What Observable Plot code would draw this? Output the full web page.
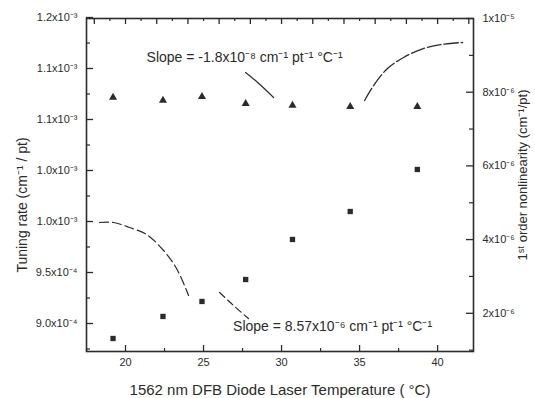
<!DOCTYPE html>
<html><head><meta charset="utf-8">
<script src="https://cdn.jsdelivr.net/npm/d3@7"></script>
<script src="https://cdn.jsdelivr.net/npm/@observablehq/plot@0.6"></script>
<style>body{margin:0;background:#fff} svg{display:block}</style>
</head><body><div id="chart"></div>
<script>
// ---- data ----
const temperature = [19.2, 22.4, 24.9, 27.7, 30.7, 34.4, 38.7];
const tuningRate = [0.8853e-3, 0.9069e-3, 0.9216e-3, 0.9431e-3, 0.9824e-3, 1.0098e-3, 1.0510e-3];
const nonlinearity = [7.86e-6, 7.78e-6, 7.88e-6, 7.69e-6, 7.64e-6, 7.61e-6, 7.61e-6];

const leftTicks = [0.9e-3, 0.95e-3, 1.0e-3, 1.05e-3, 1.1e-3, 1.15e-3, 1.2e-3];
const leftTickLabels = ["9.0x10⁻⁴", "9.5x10⁻⁴", "1.0x10⁻³", "1.0x10⁻³", "1.1x10⁻³", "1.1x10⁻³", "1.2x10⁻³"];
const leftMinorTicks = [0.875e-3, 0.925e-3, 0.975e-3, 1.025e-3, 1.075e-3, 1.125e-3, 1.175e-3];
const rightTicks = [2e-6, 4e-6, 6e-6, 8e-6, 1e-5];
const rightTickLabels = ["2x10⁻⁶", "4x10⁻⁶", "6x10⁻⁶", "8x10⁻⁶", "1x10⁻⁵"];
const rightMinorTicks = [1e-6, 3e-6, 5e-6, 7e-6, 9e-6];
const xTicks = [20, 25, 30, 35, 40];
const xMinorTicks = [17.5, 22.5, 27.5, 32.5, 37.5];
const topMajorTicks = [18, 20, 22, 24, 26, 28, 30, 32, 34, 36, 38, 40, 42];
const topMinorTicks = [19, 21, 23, 25, 27, 29, 31, 33, 35, 37, 39, 41];

const leftDomain = [0.87255e-3, 1.19902e-3];
const rightDomain = [0.9633e-6, 1.0e-5];
const xDomain = [17.5, 42.3];

// annotation leader lines (temperature, tuning-rate units)
const leaderTop = [{t: 27.69, v: 1.14608e-3}, {t: 28.40, v: 1.13725e-3}, {t: 29.49, v: 1.12157e-3}];
const arrowTop = [{t: 35.32, v: 1.1186e-3}, {t: 35.90, v: 1.1333e-3}, {t: 36.79, v: 1.1500e-3}, {t: 37.82, v: 1.1608e-3}, {t: 38.91, v: 1.1686e-3}, {t: 40.19, v: 1.1735e-3}, {t: 41.60, v: 1.1755e-3}];
const arrowBottomA = [{t: 18.33, v: 0.99902e-3}, {t: 19.23, v: 0.99902e-3}, {t: 20.26, v: 0.99412e-3}, {t: 21.35, v: 0.98725e-3}, {t: 22.44, v: 0.97157e-3}, {t: 23.27, v: 0.95392e-3}, {t: 24.04, v: 0.92745e-3}];
const arrowBottomB = [{t: 26.03, v: 0.93039e-3}, {t: 26.92, v: 0.91765e-3}, {t: 27.88, v: 0.9049e-3}];
const slopeLabels = [
  {t: 27.63, v: 1.1608e-3, text: "Slope = -1.8x10⁻⁸ cm⁻¹ pt⁻¹ °C⁻¹"},
  {t: 33.27, v: 0.89706e-3, text: "Slope = 8.57x10⁻⁶ cm⁻¹ pt⁻¹ °C⁻¹"}
];
const xTitle = "1562 nm DFB Diode Laser Temperature ( °C)";
const yLeftTitle = "Tuning rate (cm⁻¹ / pt)";
const yRightTitle = "1ˢᵗ order nonlinearity (cm⁻¹/pt)";

// ---- build ----
const toLeft = d3.scaleLinear().domain(rightDomain).range(leftDomain);
const ink = "#2b2b2b";
const W = 535, H = 398;
const mT = 18, mR = 62, mB = 47, mL = 86;
const fw = W - mL - mR, fh = H - mT - mB;

const squares = temperature.map((t, i) => ({t, v: tuningRate[i]}));
const triangles = temperature.map((t, i) => ({t, v: toLeft(nonlinearity[i])}));

const chart = Plot.plot({
  width: W, height: H,
  marginTop: mT, marginRight: mR, marginBottom: mB, marginLeft: mL,
  style: {fontFamily: "'Liberation Sans', Arial, sans-serif", fontSize: "11px", color: ink, background: "#fff"},
  x: {domain: xDomain, axis: null},
  y: {domain: leftDomain, axis: null},
  marks: [
    Plot.frame({stroke: ink, strokeWidth: 1.6}),
    // inward tick marks
    Plot.tickY(leftTicks, {y: d => d, stroke: ink, strokeWidth: 1.3, insetRight: fw - 7}),
    Plot.tickY(leftMinorTicks, {y: d => d, stroke: ink, strokeWidth: 1.2, insetRight: fw - 4}),
    Plot.tickY(rightTicks.map(toLeft), {y: d => d, stroke: ink, strokeWidth: 1.3, insetLeft: fw - 7}),
    Plot.tickY(rightMinorTicks.map(toLeft), {y: d => d, stroke: ink, strokeWidth: 1.2, insetLeft: fw - 4}),
    Plot.tickX(xTicks, {x: d => d, stroke: ink, strokeWidth: 1.3, insetTop: fh - 6}),
    Plot.tickX(xMinorTicks, {x: d => d, stroke: ink, strokeWidth: 1.2, insetTop: fh - 3}),
    Plot.tickX(topMajorTicks, {x: d => d, stroke: ink, strokeWidth: 1.3, insetBottom: fh - 6}),
    Plot.tickX(topMinorTicks, {x: d => d, stroke: ink, strokeWidth: 1.2, insetBottom: fh - 3}),
    // tick labels
    Plot.axisX(xTicks, {anchor: "bottom", tickSize: 0, tickPadding: 7, label: null, fill: ink, fontSize: 11}),
    Plot.axisY(leftTicks, {anchor: "left", tickSize: 0, tickPadding: 9, label: null, fill: ink, fontSize: 11,
      tickFormat: d => leftTickLabels[leftTicks.indexOf(d)]}),
    Plot.text(rightTicks, {y: d => toLeft(d), frameAnchor: "right", dx: 9, textAnchor: "start", fill: ink, fontSize: 11,
      text: (d, i) => rightTickLabels[i]}),
    // axis titles
    Plot.text([xTitle], {frameAnchor: "bottom", dy: 39, textAnchor: "middle", lineAnchor: "middle", fontSize: 15, fill: ink}),
    Plot.text([yLeftTitle], {frameAnchor: "left", dx: -64, dy: 20, rotate: -90, textAnchor: "middle", lineAnchor: "middle", fontSize: 14, fill: ink}),
    Plot.text([yRightTitle], {frameAnchor: "right", dx: 49, dy: -10, rotate: -90, textAnchor: "middle", lineAnchor: "middle", fontSize: 13, fill: ink}),
    // annotations
    Plot.line(leaderTop, {x: "t", y: "v", stroke: ink, strokeWidth: 1.2, curve: "catmull-rom"}),
    Plot.line(arrowTop, {x: "t", y: "v", stroke: ink, strokeWidth: 1.3, curve: "catmull-rom", strokeDasharray: "14 3"}),
    Plot.line(arrowBottomA, {x: "t", y: "v", stroke: ink, strokeWidth: 1.2, curve: "catmull-rom", strokeDasharray: "9 4"}),
    Plot.line(arrowBottomB, {x: "t", y: "v", stroke: ink, strokeWidth: 1.2, curve: "catmull-rom", strokeDasharray: "7 4"}),
    Plot.text(slopeLabels, {x: "t", y: "v", text: "text", fontSize: 14, fill: ink}),
    // data
    Plot.dot(triangles, {x: "t", y: "v", symbol: "triangle", r: 3, fill: ink, stroke: "none"}),
    Plot.dot(squares, {x: "t", y: "v", symbol: "square", r: 3, fill: ink, stroke: "none"})
  ]
});
document.getElementById("chart").append(chart);
</script>
</body></html>
